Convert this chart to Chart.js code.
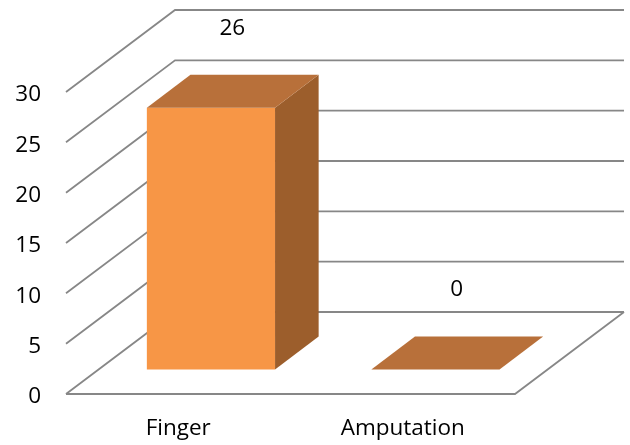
<!DOCTYPE html>
<html>
<head>
<meta charset="utf-8">
<script src="https://cdn.jsdelivr.net/npm/chart.js@4/dist/chart.umd.min.js"></script>
<style>
  html, body { margin: 0; padding: 0; background: #ffffff; }
  #wrap { width: 630px; height: 445px; }
</style>
</head>
<body>
<div id="wrap"><canvas id="c" width="630" height="445"></canvas></div>
<script>
// Injury categories and counts
const categories = ['Finger', 'Amputation'];
const counts = [26, 0];
// Value axis ticks
const yTicks = [0, 5, 10, 15, 20, 25, 30];

const FONT = '"Open Sans", sans-serif';
const FONT_SIZE = 22.5;

// Draws the chart as a 3-D column chart: side wall, back wall and floor,
// then each column as a box positioned through the chart's own scales.
const box3d = {
  id: 'box3d',
  beforeDatasetsDraw(chart, args, opts) {
    const { ctx, chartArea: a, scales: { y } } = chart;
    const dx = opts.dx, dy = opts.dy;
    ctx.save();
    ctx.strokeStyle = opts.gridColor;
    ctx.lineWidth = opts.gridWidth;
    ctx.lineCap = 'butt';
    yTicks.forEach(v => {
      const py = y.getPixelForValue(v);
      ctx.beginPath();
      ctx.moveTo(a.left, py);
      ctx.lineTo(a.left + dx, py + dy);
      ctx.lineTo(a.right + dx, py + dy);
      ctx.stroke();
    });
    // floor front and right edges
    const y0 = y.getPixelForValue(0);
    ctx.beginPath();
    ctx.moveTo(a.left, y0);
    ctx.lineTo(a.right, y0);
    ctx.lineTo(a.right + dx, y0 + dy);
    ctx.stroke();
    ctx.restore();
  },
  afterDatasetsDraw(chart, args, opts) {
    const { ctx, scales: { y } } = chart;
    const dx = opts.dx, dy = opts.dy;
    const ox0 = dx * opts.front, oy0 = dy * opts.front;
    const ox1 = dx * opts.back, oy1 = dy * opts.back;
    const meta = chart.getDatasetMeta(0);
    const values = chart.data.datasets[0].data;
    ctx.save();
    meta.data.forEach((bar, i) => {
      const v = values[i];
      const xl = bar.x - bar.width / 2, xr = bar.x + bar.width / 2;
      const yb = y.getPixelForValue(0), yt = y.getPixelForValue(v);
      const poly = (pts, fill) => {
        ctx.beginPath();
        ctx.moveTo(pts[0][0], pts[0][1]);
        for (let k = 1; k < pts.length; k++) ctx.lineTo(pts[k][0], pts[k][1]);
        ctx.closePath();
        ctx.fillStyle = fill;
        ctx.fill();
      };
      if (yb - yt > 0.5) {
        // front face
        poly([[xl + ox0, yt + oy0], [xr + ox0, yt + oy0], [xr + ox0, yb + oy0], [xl + ox0, yb + oy0]], opts.frontColor);
        // side face
        poly([[xr + ox0, yt + oy0], [xr + ox1, yt + oy1], [xr + ox1, yb + oy1], [xr + ox0, yb + oy0]], opts.sideColor);
      }
      // top face
      poly([[xl + ox0, yt + oy0], [xl + ox1, yt + oy1], [xr + ox1, yt + oy1], [xr + ox0, yt + oy0]], opts.topColor);

      // value label
      ctx.fillStyle = '#000000';
      ctx.font = opts.labelFont;
      ctx.textAlign = 'center';
      ctx.textBaseline = 'middle';
      ctx.fillText(String(v), bar.x + opts.labelDx, yt + opts.labelDy);
    });
    ctx.restore();
  }
};

new Chart(document.getElementById('c'), {
  type: 'bar',
  data: {
    labels: categories,
    datasets: [{
      data: counts,
      backgroundColor: 'rgba(0,0,0,0)',
      borderWidth: 0,
      categoryPercentage: 1.0,
      barPercentage: 0.571
    }]
  },
  options: {
    responsive: false,
    animation: false,
    events: [],
    layout: { padding: { top: 92, right: 115, bottom: 0, left: 0 } },
    plugins: {
      legend: { display: false },
      tooltip: { enabled: false },
      box3d: {
        dx: 109, dy: -82,
        front: 0.3, back: 0.7,
        gridColor: '#878787', gridWidth: 1.8,
        frontColor: '#f79646', topColor: '#b8703a', sideColor: '#9c5e2c',
        labelFont: FONT_SIZE + 'px ' + FONT,
        labelDx: 54, labelDy: -104
      }
    },
    scales: {
      x: {
        grid: { display: false, drawTicks: false },
        border: { display: false },
        ticks: { color: '#000000', font: { family: FONT, size: FONT_SIZE }, padding: 21, maxRotation: 0 },
        afterFit(s) { s.height = 51; }
      },
      y: {
        min: 0, max: 30,
        grid: { display: false, drawTicks: false },
        border: { display: false },
        afterBuildTicks(s) { s.ticks = yTicks.map(v => ({ value: v })); },
        ticks: { color: '#000000', font: { family: FONT, size: FONT_SIZE }, padding: 25, labelOffset: 3 },
        afterFit(s) { s.width = 66; }
      }
    }
  },
  plugins: [box3d]
});
</script>
</body>
</html>
